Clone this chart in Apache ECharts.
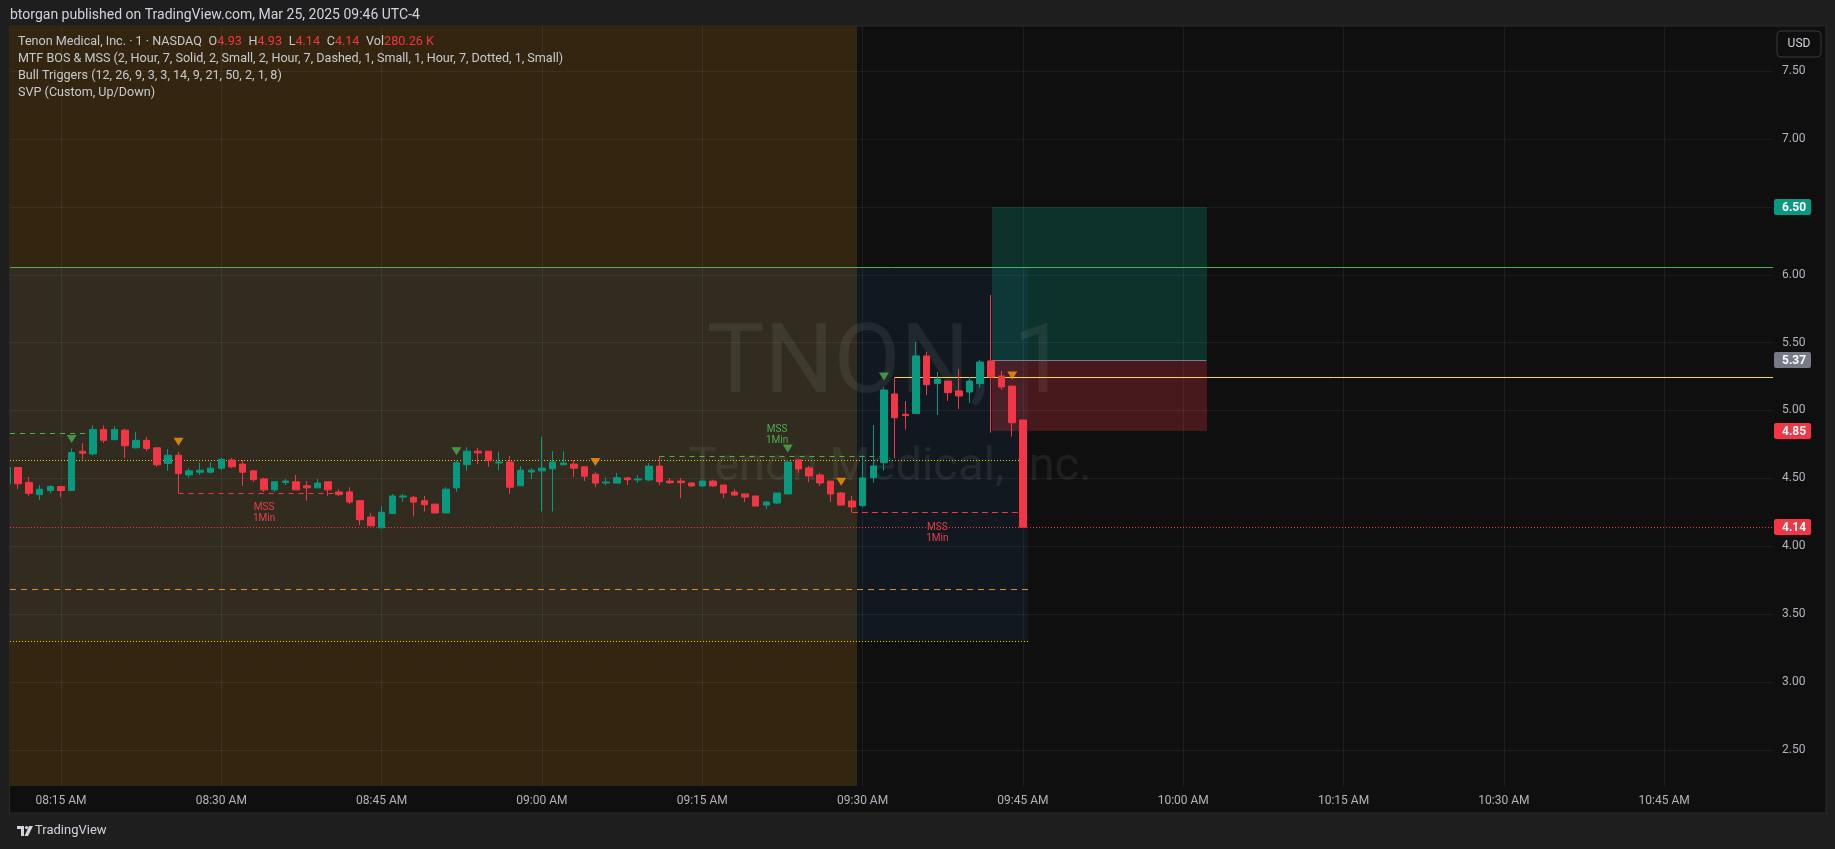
<!DOCTYPE html>
<html>
<head>
<meta charset="utf-8">
<script src="https://cdn.jsdelivr.net/npm/echarts@6/dist/echarts.min.js"></script>
<style>
html,body{margin:0;padding:0;background:#1e1e1e;}
#c{width:1835px;height:849px;}
</style>
</head>
<body>
<div id="c"></div>
<script>
// ---------------- DATA ----------------
const times = ['08:10','08:11','08:12','08:13','08:14','08:15','08:16','08:17','08:18','08:19',
'08:20','08:21','08:22','08:23','08:24','08:25','08:26','08:27','08:28','08:29',
'08:30','08:31','08:32','08:33','08:34','08:35','08:36','08:37','08:38','08:39',
'08:40','08:41','08:42','08:43','08:44','08:45','08:46','08:47','08:48','08:49',
'08:50','08:51','08:52','08:53','08:54','08:55','08:56','08:57','08:58','08:59',
'09:00','09:01','09:02','09:03','09:04','09:05','09:06','09:07','09:08','09:09',
'09:10','09:11','09:12','09:13','09:14','09:15','09:16','09:17','09:18','09:19',
'09:20','09:21','09:22','09:23','09:24','09:25','09:26','09:27','09:28','09:29',
'09:30','09:31','09:32','09:33','09:34','09:35','09:36','09:37','09:38','09:39',
'09:40','09:41','09:42','09:43','09:44','09:45'];

const open = [4.46,4.58,4.47,4.38,4.41,4.44,4.41,4.70,4.68,4.86,
4.785,4.855,4.725,4.78,4.725,4.61,4.67,4.525,4.545,4.545,
4.575,4.635,4.605,4.555,4.495,4.415,4.47,4.475,4.445,4.43,
4.475,4.40,4.40,4.335,4.215,4.135,4.24,4.362,4.36,4.335,
4.31,4.245,4.43,4.60,4.70,4.70,4.613,4.62,4.445,4.547,
4.555,4.57,4.60,4.605,4.585,4.53,4.466,4.465,4.503,4.488,
4.488,4.59,4.48,4.48,4.466,4.444,4.48,4.451,4.399,4.385,
4.37,4.303,4.318,4.385,4.635,4.576,4.525,4.48,4.392,4.333,
4.299,4.505,4.616,5.122,4.972,4.977,5.402,5.198,5.217,5.144,
5.136,5.198,5.365,5.254,5.18,4.93];

const high = [4.59,4.58,4.51,4.45,4.45,4.44,4.72,4.76,4.89,4.89,
4.885,4.865,4.84,4.805,4.725,4.715,4.695,4.575,4.615,4.62,
4.65,4.65,4.635,4.555,4.505,4.475,4.495,4.525,4.48,4.495,
4.475,4.42,4.435,4.335,4.245,4.295,4.385,4.385,4.37,4.37,
4.31,4.435,4.63,4.73,4.725,4.70,4.695,4.665,4.59,4.575,
4.805,4.70,4.70,4.635,4.585,4.545,4.505,4.54,4.51,4.525,
4.613,4.665,4.503,4.503,4.466,4.488,4.488,4.451,4.421,4.385,
4.37,4.333,4.392,4.635,4.635,4.591,4.54,4.48,4.399,4.37,
4.67,4.893,5.171,5.244,5.07,5.505,5.431,5.284,5.217,5.306,
5.247,5.372,5.851,5.291,5.18,4.93];

const low = [4.45,4.42,4.37,4.34,4.39,4.36,4.41,4.64,4.67,4.76,
4.78,4.65,4.72,4.70,4.585,4.555,4.39,4.505,4.525,4.535,
4.56,4.575,4.445,4.475,4.40,4.40,4.45,4.415,4.335,4.43,
4.37,4.37,4.31,4.155,4.15,4.135,4.24,4.325,4.22,4.255,
4.245,4.245,4.40,4.555,4.605,4.585,4.56,4.385,4.445,4.495,
4.255,4.255,4.60,4.51,4.48,4.435,4.45,4.465,4.45,4.465,
4.48,4.45,4.458,4.355,4.436,4.436,4.436,4.355,4.37,4.326,
4.296,4.274,4.311,4.385,4.54,4.473,4.444,4.326,4.303,4.252,
4.286,4.468,4.557,4.647,4.859,4.977,5.114,4.967,5.07,5.011,
5.055,5.168,4.837,5.153,4.807,4.14];

const close = [4.58,4.46,4.39,4.42,4.44,4.41,4.69,4.685,4.86,4.78,
4.86,4.74,4.78,4.72,4.60,4.67,4.535,4.555,4.56,4.575,
4.64,4.585,4.545,4.49,4.415,4.475,4.48,4.415,4.43,4.465,
4.415,4.38,4.325,4.195,4.15,4.25,4.37,4.37,4.325,4.305,
4.245,4.42,4.615,4.70,4.687,4.63,4.62,4.435,4.56,4.56,
4.575,4.62,4.613,4.575,4.515,4.465,4.473,4.505,4.49,4.495,
4.59,4.475,4.468,4.468,4.444,4.48,4.444,4.392,4.377,4.362,
4.296,4.325,4.392,4.62,4.569,4.517,4.466,4.385,4.303,4.289,
4.503,4.591,5.151,4.947,4.962,5.402,5.19,5.232,5.131,5.107,
5.217,5.357,5.247,5.173,4.91,4.14];

const volumeText = '280.26 K';

const xTickTimes  = ['08:15','08:30','08:45','09:00','09:15','09:30','09:45','10:00','10:15','10:30','10:45'];
const xTickLabels = ['08:15 AM','08:30 AM','08:45 AM','09:00 AM','09:15 AM','09:30 AM','09:45 AM','10:00 AM','10:15 AM','10:30 AM','10:45 AM'];
const yTicks = [2.5,3.0,3.5,4.0,4.5,5.0,5.5,6.0,6.5,7.0,7.5];

// horizontal levels (null = edge of view)
const levelPrices = [6.06, 5.245, 4.14, 4.633, 3.682, 3.298, 4.832, 4.39, 4.665, 4.25, 5.37];
const levelFrom   = [null, '09:33', null, null, null, null, null, '08:26', '09:11', '09:29', '09:42:05'];
const levelTo     = [null, null, null, '09:44:45', '09:45:30', '09:45:30', '08:18', '08:41', '09:32', '09:45', '10:02:11'];

// shaded zones: premarket session, session volume profile box, position target, position stop
const zoneFrom = [null, null, '09:42:05', '09:42:05'];
const zoneTo   = ['09:29:30', '09:45:30', '10:02:11', '10:02:11'];
const zoneLow  = [null, 3.298, 5.37, 4.85];
const zoneHigh = [null, 6.06, 6.50, 5.37];

// signal triangles
const bullSignalTimes  = ['08:16','08:52','09:23','09:32'];
const bullSignalPrices = [4.79, 4.70, 4.72, 5.25];
const warnSignalTimes  = ['08:26','09:05','09:28','09:44'];
const warnSignalPrices = [4.77, 4.62, 4.475, 5.257];

// MSS labels
const mssTimes  = ['08:34','09:22','09:37'];
const mssPrices = [4.245, 4.817, 4.097];
const mssKinds  = ['bear','bull','bear'];

// axis price tags
const tagPrices = [6.50, 5.37, 4.85, 4.14];

// ---------------- STYLES / LAYOUT ----------------
const UP = '#089981', DOWN = '#f23645';
const levelColors = ['#4caf50','#fdd835','#f23645','#e6d200','#dc8f22','#e6d200','#4caf50','#f23645','#4caf50','#f23645','#787b86'];
const levelDash   = [null, null, [1,2], [1,2], [6,5], [1,2], [5,5], [5,5], [5,5], [6,4], null];
const zoneColors  = ['#33250f','rgba(40,110,180,0.10)','rgba(8,153,129,0.25)','rgba(242,54,69,0.25)'];
const tagColors   = ['#089981','#787b86','#f23645','#f23645'];
const FONT = 'Roboto, "Liberation Sans", sans-serif';

const toMin = s => { const p = s.split(':').map(Number); return p[0]*60 + p[1] + (p[2]||0)/60; };

// view window (pixel layout of the reference)
const xMin = 490.23, xMax = 655.18;
const yMin = 2.233, yMax = 7.833;

const candleData = times.map((t,i) => [toMin(t), open[i], close[i], low[i], high[i]]);
const levelData = levelPrices.map((p,i) => [levelFrom[i] ? toMin(levelFrom[i]) : xMin, levelTo[i] ? toMin(levelTo[i]) : xMax, p]);
const zoneData = zoneFrom.map((f,i) => [f ? toMin(f) : xMin, toMin(zoneTo[i]), zoneLow[i] == null ? yMin : zoneLow[i], zoneHigh[i] == null ? yMax : zoneHigh[i]]);
const xTickValues = xTickTimes.map(toMin);

const last = times.length - 1;
const legend1 = '{t|Tenon Medical, Inc. · 1 · NASDAQ}  {t|O}{v|' + open[last].toFixed(2) + '}  {t|H}{v|' + high[last].toFixed(2) +
  '}  {t|L}{v|' + low[last].toFixed(2) + '}  {t|C}{v|' + close[last].toFixed(2) + '}  {t|Vol}{v|' + volumeText + '}';

const chart = echarts.init(document.getElementById('c'), null, {width:1835, height:849});

const LF = 12.6;
const option = {
  backgroundColor: '#1e1e1e',
  animation: false,
  grid: {left: 10, right: 62, top: 26, bottom: 63, outerBoundsMode: 'none', containLabel: false},
  xAxis: {
    type: 'value', min: xMin, max: xMax, z: 1,
    axisLine: {show: false},
    axisTick: {show: false, customValues: xTickValues},
    axisLabel: {customValues: xTickValues, color: '#b2b5be', fontSize: 12, fontFamily: FONT, margin: 9,
      formatter: v => { const k = xTickValues.findIndex(t => Math.abs(t - v) < 0.01); return k >= 0 ? xTickLabels[k] : ''; }},
    splitLine: {show: true, lineStyle: {color: 'rgba(255,255,255,0.06)', width: 1}}
  },
  yAxis: {
    type: 'value', position: 'right', min: yMin, max: yMax, z: 1,
    axisLine: {show: false},
    axisTick: {show: false, customValues: yTicks},
    axisLabel: {customValues: yTicks, color: '#b2b5be', fontSize: 12, fontFamily: FONT, margin: 9,
      formatter: v => v.toFixed(2)},
    splitLine: {show: true, lineStyle: {color: 'rgba(255,255,255,0.06)', width: 1}}
  },
  graphic: {elements: [
    {type: 'rect', z: -10, shape: {x: 9, y: 26, width: 1817, height: 787}, style: {fill: '#0f0f0f', stroke: '#2a2a2a', lineWidth: 1}},
    {type: 'text', z: -1, x: 887, y: 368, style: {text: 'TNON, 1', font: '97px ' + FONT, fill: 'rgba(255,255,255,0.07)', align: 'center', verticalAlign: 'middle'}},
    {type: 'text', z: -1, x: 890, y: 468, style: {text: 'Tenon Medical, Inc.', font: '47px ' + FONT, fill: 'rgba(255,255,255,0.07)', align: 'center', verticalAlign: 'middle'}},
    // cover for the part of the first candle that lies left of the pane
    {type: 'rect', z: 50, shape: {x: 0, y: 26, width: 9.5, height: 787}, style: {fill: '#1e1e1e'}},
    {type: 'line', z: 51, shape: {x1: 9.5, y1: 26, x2: 9.5, y2: 813}, style: {stroke: '#2a2a2a', lineWidth: 1}},
    {type: 'text', z: 20, x: 10, y: 15, style: {text: 'btorgan published on TradingView.com, Mar 25, 2025 09:46 UTC-4', font: '14px ' + FONT, fill: '#d1d4dc', verticalAlign: 'middle'}},
    {type: 'text', z: 20, x: 18, y: 42, style: {text: legend1, verticalAlign: 'middle',
      rich: {t: {fill: '#c8cad0', fontSize: LF, fontFamily: FONT}, v: {fill: '#f23645', fontSize: LF, fontFamily: FONT}}}},
    {type: 'text', z: 20, x: 18, y: 59, style: {text: 'MTF BOS & MSS (2, Hour, 7, Solid, 2, Small, 2, Hour, 7, Dashed, 1, Small, 1, Hour, 7, Dotted, 1, Small)', font: LF + 'px ' + FONT, fill: '#c8cad0', verticalAlign: 'middle'}},
    {type: 'text', z: 20, x: 18, y: 76, style: {text: 'Bull Triggers (12, 26, 9, 3, 3, 14, 9, 21, 50, 2, 1, 8)', font: LF + 'px ' + FONT, fill: '#c8cad0', verticalAlign: 'middle'}},
    {type: 'text', z: 20, x: 18, y: 93, style: {text: 'SVP (Custom, Up/Down)', font: LF + 'px ' + FONT, fill: '#c8cad0', verticalAlign: 'middle'}},
    {type: 'rect', z: 20, shape: {x: 1777, y: 31, width: 44, height: 26, r: 4}, style: {fill: '#0f0f0f', stroke: '#3a3a3a', lineWidth: 1}},
    {type: 'text', z: 21, x: 1799, y: 44, style: {text: 'USD', font: '12px ' + FONT, fill: '#d1d4dc', align: 'center', verticalAlign: 'middle'}},
    // TradingView logo
    {type: 'rect', z: 20, shape: {x: 17, y: 826, width: 7, height: 3}, style: {fill: '#d1d4dc'}},
    {type: 'rect', z: 20, shape: {x: 21, y: 826, width: 3, height: 10}, style: {fill: '#d1d4dc'}},
    {type: 'circle', z: 20, shape: {cx: 26.5, cy: 827.5, r: 1.6}, style: {fill: '#d1d4dc'}},
    {type: 'polygon', z: 20, shape: {points: [[29,826],[33,826],[28,836],[24.5,836]]}, style: {fill: '#d1d4dc'}},
    {type: 'text', z: 20, x: 35, y: 831, style: {text: 'TradingView', font: '13px ' + FONT, fill: '#d1d4dc', verticalAlign: 'middle'}}
  ]},
  series: [
    {
      name: 'zones', type: 'custom', z: -2, clip: true,
      encode: {x: [0,1], y: [2,3]},
      data: zoneData,
      renderItem: (params, api) => {
        const i = params.dataIndex;
        const a = api.coord([api.value(0), api.value(3)]);
        const b = api.coord([api.value(1), api.value(2)]);
        return {type: 'rect', shape: {x: Math.round(a[0]), y: Math.round(a[1]), width: Math.round(b[0]) - Math.round(a[0]), height: Math.round(b[1]) - Math.round(a[1])},
          style: {fill: zoneColors[i]}};
      }
    },
    {
      name: 'levels', type: 'custom', z: 3, clip: true,
      encode: {x: [0,1], y: 2},
      data: levelData,
      renderItem: (params, api) => {
        const i = params.dataIndex;
        const a = api.coord([api.value(0), api.value(2)]);
        const b = api.coord([api.value(1), api.value(2)]);
        const y = Math.round(a[1]) + 0.5;
        return {type: 'line', shape: {x1: a[0], y1: y, x2: b[0], y2: y},
          style: {stroke: levelColors[i], lineWidth: 1, lineDash: levelDash[i] || null}};
      }
    },
    {
      name: 'TNON', type: 'candlestick', z: 5,
      encode: {x: 0, y: [1,2,3,4]},
      data: candleData,
      barWidth: 7,
      itemStyle: {color: UP, color0: DOWN, borderColor: UP, borderColor0: DOWN, borderWidth: 1}
    },
    {
      name: 'bull', type: 'scatter', z: 6, symbol: 'triangle', symbolRotate: 180, symbolSize: [10, 8],
      itemStyle: {color: '#4caf50'},
      data: bullSignalTimes.map((t,i) => [toMin(t), bullSignalPrices[i]])
    },
    {
      name: 'warn', type: 'scatter', z: 6, symbol: 'triangle', symbolRotate: 180, symbolSize: [10, 8],
      itemStyle: {color: '#ff9800'},
      data: warnSignalTimes.map((t,i) => [toMin(t), warnSignalPrices[i]])
    },
    {
      name: 'mss', type: 'custom', z: 6, clip: true,
      encode: {x: 0, y: 1},
      data: mssTimes.map((t,i) => [toMin(t), mssPrices[i]]),
      renderItem: (params, api) => {
        const i = params.dataIndex;
        const p = api.coord([api.value(0), api.value(1)]);
        const c = mssKinds[i] === 'bull' ? '#4caf50' : '#e5404b';
        return {type: 'group', children: [
          {type: 'text', x: p[0], y: p[1] - 5.5, style: {text: 'MSS', fill: c, font: '10px ' + FONT, align: 'center', verticalAlign: 'middle'}},
          {type: 'text', x: p[0], y: p[1] + 5.5, style: {text: '1Min', fill: c, font: '10px ' + FONT, align: 'center', verticalAlign: 'middle'}}
        ]};
      }
    },
    {
      name: 'tags', type: 'custom', z: 10, clip: false,
      encode: {x: 0, y: 1},
      data: tagPrices.map(p => [xMax, p]),
      renderItem: (params, api) => {
        const i = params.dataIndex;
        const p = api.coord([api.value(0), api.value(1)]);
        const y = Math.round(p[1]);
        return {type: 'group', children: [
          {type: 'rect', shape: {x: Math.round(p[0]) + 1, y: y - 8, width: 37, height: 16, r: 2}, style: {fill: tagColors[i]}},
          {type: 'text', x: Math.round(p[0]) + 9, y: y + 0.5, style: {text: api.value(1).toFixed(2), fill: '#ffffff', font: 'bold 12px ' + FONT, verticalAlign: 'middle'}}
        ]};
      }
    }
  ]
};
chart.setOption(option);
</script>
</body>
</html>
